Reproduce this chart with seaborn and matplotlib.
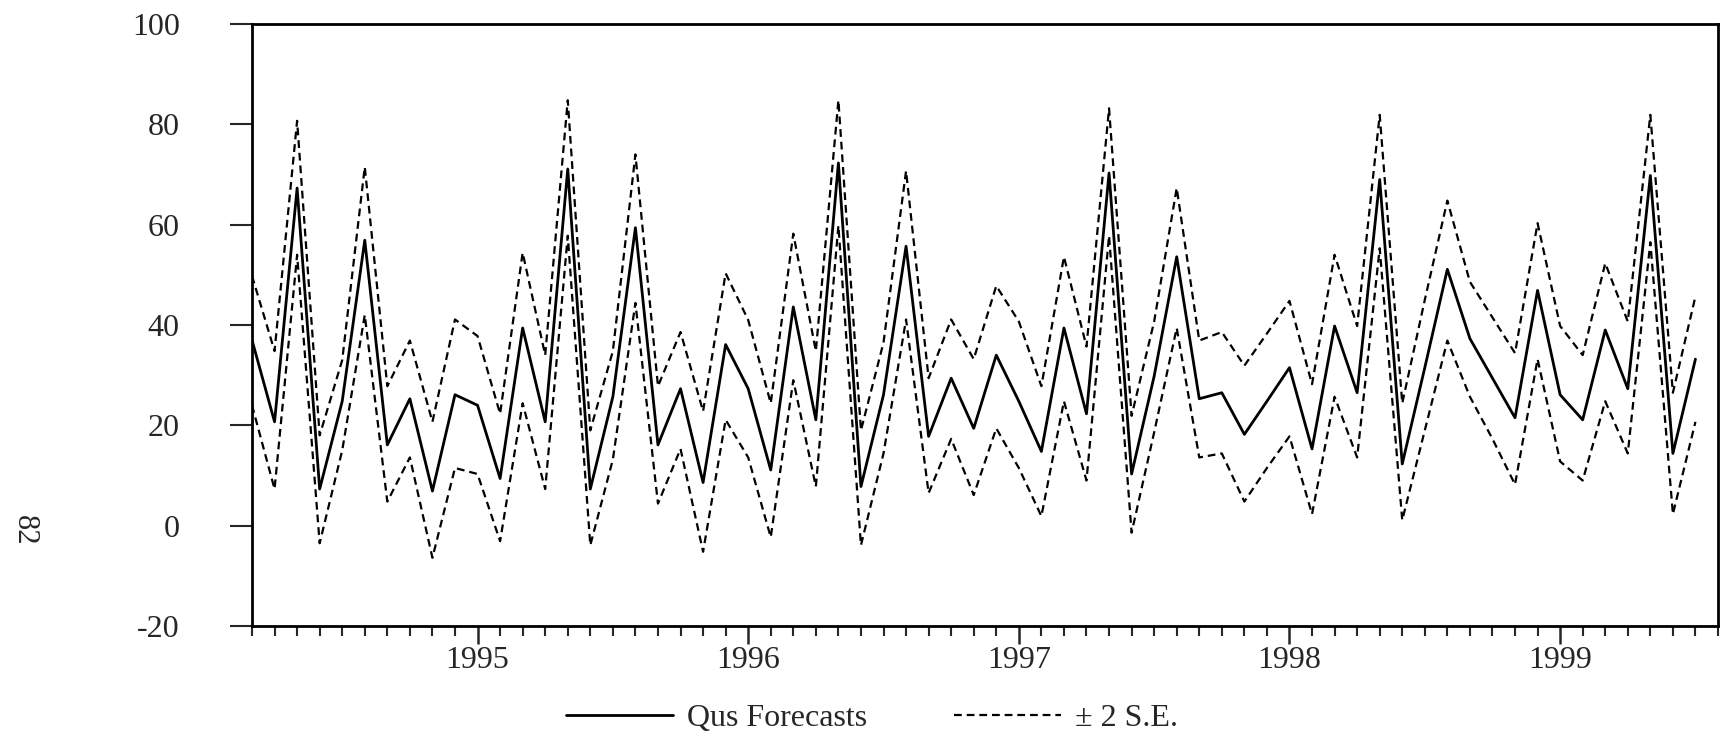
import numpy as np
import pandas as pd
import matplotlib
matplotlib.use("Agg")
import matplotlib.pyplot as plt
import seaborn as sns

# Monthly forecasts, 1994M03 .. 1999M07
start_year = 1994
start_month = 3

forecast = [37.0, 20.7, 67.3, 7.3, 24.8, 56.9, 16.1, 25.3, 6.9, 26.1,
            24.0, 9.4, 39.4, 20.7, 71.1, 7.3, 25.7, 59.4, 16.1, 27.3, 8.6, 36.1,
            27.3, 11.1, 43.6, 21.1, 72.3, 7.8, 26.1, 55.7, 17.8, 29.4, 19.4, 34.0,
            24.8, 14.8, 39.4, 22.3, 70.3, 10.3, 29.8, 53.6, 25.3, 26.5, 18.2, 24.8,
            31.5, 15.3, 39.8, 26.5, 69.0, 12.3, 31.5, 51.1, 37.3, 29.4, 21.5, 46.9,
            26.1, 21.1, 39.0, 27.3, 69.8, 14.4, 33.2]

upper = [49.8, 34.8, 80.7, 18.0, 33.0, 71.5, 27.8, 36.9, 20.7, 41.1,
         37.8, 22.3, 54.4, 34.0, 84.8, 19.0, 34.8, 74.0, 27.8, 38.6, 22.8, 50.3,
         41.0, 24.4, 58.2, 34.8, 84.8, 19.0, 36.5, 70.7, 29.4, 41.1, 33.2, 47.8,
         40.7, 27.8, 53.6, 35.7, 83.2, 21.9, 40.7, 67.3, 36.9, 38.6, 31.9, 38.3,
         44.8, 28.2, 54.0, 39.8, 81.9, 24.4, 45.0, 64.8, 48.6, 41.5, 34.4, 60.3,
         39.8, 34.0, 52.3, 40.7, 81.9, 26.5, 45.7]

lower = [24.0, 7.3, 54.0, -3.5, 15.0, 42.0, 4.8, 13.6, -6.4, 11.5,
         10.3, -3.1, 24.4, 7.3, 57.8, -3.9, 13.2, 44.4, 4.4, 15.3, -5.2, 21.1,
         13.6, -2.3, 29.0, 7.8, 59.8, -3.9, 14.4, 41.1, 6.5, 17.3, 6.1, 19.4,
         11.5, 1.9, 24.8, 9.0, 57.8, -1.4, 18.6, 39.4, 13.6, 14.4, 4.8, 11.5,
         17.8, 2.3, 25.7, 13.6, 55.3, 1.1, 19.0, 36.9, 25.7, 17.3, 8.2, 33.2,
         12.8, 9.0, 24.8, 14.4, 56.5, 2.3, 20.7]

y_ticks = [-20, 0, 20, 40, 60, 80, 100]
x_major = [1995, 1996, 1997, 1998, 1999]

n = len(forecast)
t = start_year + (start_month - 1 + np.arange(n)) / 12.0
df = pd.DataFrame({"t": t, "Qus Forecasts": forecast, "upper": upper, "lower": lower})

sns.set_style("white")
plt.rcParams["font.family"] = ["Liberation Serif", "DejaVu Serif"]

fig = plt.figure(figsize=(17.27, 7.44), dpi=100)
# axes: x 252..1718 px, y 24..626 px
ax = fig.add_axes([252 / 1727, 1 - 626 / 744, (1718 - 252) / 1727, (626 - 24) / 744])

sns.lineplot(data=df, x="t", y="Qus Forecasts", ax=ax, color="black", lw=2.0,
             label="Qus Forecasts")
sns.lineplot(data=df, x="t", y="upper", ax=ax, color="black", lw=1.6,
             linestyle=(0, (3.5, 2.2)), label="\u00b1 2 S.E.")
sns.lineplot(data=df, x="t", y="lower", ax=ax, color="black", lw=1.6,
             linestyle=(0, (3.5, 2.2)), label="_nolegend_")

ax.set_xlim(start_year + (start_month - 1) / 12.0, 1999 + 7 / 12.0)
ax.set_ylim(-20, 100)
ax.set_yticks(y_ticks)
ax.set_yticklabels([str(v) for v in y_ticks])
ax.set_xticks(x_major)
ax.set_xticklabels([str(v) for v in x_major])
ax.set_xticks(np.arange(start_year + (start_month - 1) / 12.0, 1999 + 7.5 / 12.0, 1 / 12.0), minor=True)
ax.set_xlabel("")
ax.set_ylabel("")

for s in ax.spines.values():
    s.set_linewidth(2.0)
    s.set_color("black")

ax.tick_params(axis="y", which="major", direction="out", length=16, width=1.5,
               labelsize=23, pad=36, left=True)
ax.tick_params(axis="x", which="major", direction="out", length=13, width=1.8,
               labelsize=23, pad=1.5, bottom=True)
ax.tick_params(axis="x", which="minor", direction="out", length=7, width=1.5, bottom=True)

leg = ax.legend(loc="center", bbox_to_anchor=(0.505, 0.034), bbox_transform=fig.transFigure,
                ncol=2, frameon=False, fontsize=23, handlelength=3.35,
                columnspacing=2.7, handletextpad=0.45)

fig.text(24 / 1727, 1 - 530 / 744, "82", rotation=-90, fontsize=22, ha="center", va="center")

fig.savefig("out.png", dpi=100, facecolor="white")
